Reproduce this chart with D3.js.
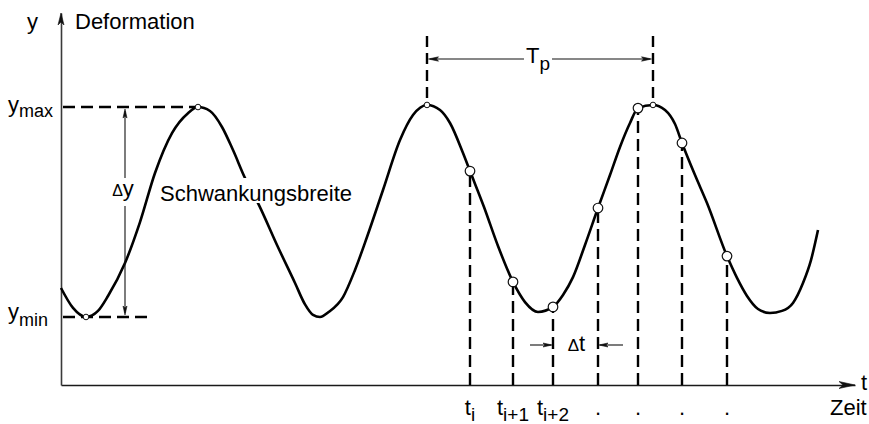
<!DOCTYPE html>
<html>
<head>
<meta charset="utf-8">
<script src="https://cdn.jsdelivr.net/npm/d3@7"></script>
<style>
  body { margin: 0; background: #fff; }
  svg { display: block; font-family: "Liberation Sans", Arial, Helvetica, sans-serif; }
</style>
</head>
<body>
<script>
// Deformation signal over time; y_min = 0, y_max = 10 (deformation units), time in arbitrary units.
const curveTime = [
  0, 0.6, 1.25, 1.85, 2.35, 3.2, 3.95, 4.7, 5.55, 6.35, 6.85, 7.45, 8.05, 8.6, 9.2, 9.9,
  10.8, 11.7, 12.2, 12.6, 12.95, 13.4, 14.1, 14.7, 15.3, 16.1, 16.95, 17.6, 18.3, 18.95, 19.45,
  20.1, 20.45, 21.15, 21.85, 22.6, 23.2, 23.85, 24.6, 25.1, 25.6, 26.2, 26.85, 27.45, 27.95,
  28.45, 28.85, 29.6, 30.2, 30.7, 31.05, 31.7, 32.3, 33.3, 33.8, 34.3, 34.85, 35.45, 36.05,
  36.6, 37.1, 37.5, 37.85
];
const curveDeformation = [
  1.38, 0.43, 0, 0.29, 1.0, 2.57, 4.52, 6.86, 8.76, 9.71, 10, 9.81, 9.05, 7.95, 6.62, 5.33,
  3.43, 1.62, 0.6, 0.1, 0.0, 0.25, 0.95, 2.24, 3.81, 6.05, 8.43, 9.62, 10.1, 9.86, 9.24,
  7.81, 6.95, 5.24, 3.38, 1.67, 0.71, 0.24, 0.48, 1.05, 1.9, 3.43, 5.19, 6.76, 8.1,
  9.24, 9.95, 10.1, 9.86, 9.19, 8.29, 6.76, 5.43, 2.9, 1.86, 1.0, 0.38, 0.19, 0.29,
  0.67, 1.62, 2.71, 4.14
];

// Sampling instants t_i, t_i+1, ... and the deformation read at each
const sampleTime = [20.45, 22.6, 24.6, 26.85, 28.85, 31.05, 33.3];
const sampleDeformation = [6.95, 1.67, 0.48, 5.19, 9.95, 8.29, 2.9];
const sampleLabelBase = ["t", "t", "t", ".", ".", ".", "."];
const sampleLabelSub = ["i", "i+1", "i+2", "", "", "", ""];

// Extreme values (small open markers)
const extremaTime = [1.25, 6.85, 18.3, 29.6];
const extremaDeformation = [0, 10, 10.1, 10.1];

const yMinValue = 0;
const yMaxValue = 10;
const periodStart = 18.3;   // peak where T_p starts
const periodEnd = 29.6;     // next peak, end of T_p

const W = 869, H = 424;
const FONT = 22, SUB = 18;

const x = d3.scaleLinear().domain([0, 39.7]).range([61, 855]);
const y = d3.scaleLinear().domain([-3.24, 14.48]).range([385, 13]);

const svg = d3.select("body").append("svg").attr("width", W).attr("height", H);

// notched arrow head pointing in direction `ang` (radians), tip at (tx, ty)
function arrowHead(g, tx, ty, ang, len, half, notch) {
  const c = Math.cos(ang), s = Math.sin(ang);
  const p = (a, b) => [tx - a * c + b * s, ty - a * s - b * c];
  const pts = [[tx, ty], p(len, half), p(len - notch, 0), p(len, -half)];
  g.append("path")
    .attr("d", "M" + pts.map(d => d.join(",")).join("L") + "Z")
    .attr("fill", "#111").attr("stroke", "#111").attr("stroke-width", 0.6)
    .attr("stroke-linejoin", "miter");
}

// ---------- axes ----------
const xAxis = svg.append("g").attr("transform", `translate(0,${y.range()[0]})`)
  .call(d3.axisBottom(x).tickValues([]).tickSizeOuter(0));
xAxis.select(".domain").attr("stroke", "#1a1a1a").attr("stroke-width", 1.6);
arrowHead(svg, x.range()[1], y.range()[0], 0, 16, 3.5, 4);

const yAxis = svg.append("g").attr("transform", `translate(${x.range()[0]},0)`)
  .call(d3.axisLeft(y).tickValues([]).tickSizeOuter(0));
yAxis.select(".domain").attr("stroke", "#3a3a3a").attr("stroke-width", 1.6);
arrowHead(svg, x.range()[0], y.range()[1], -Math.PI / 2, 12, 3, 3);

// ---------- dashed guide lines ----------
const dash = "12,6";
const guides = svg.append("g").attr("stroke", "#000").attr("stroke-width", 2.4)
  .attr("stroke-dasharray", dash).attr("fill", "none");

// y_max and y_min reference lines, starting at the y axis
guides.append("line")
  .attr("x1", x(0) + 2).attr("x2", x(6.85)).attr("y1", y(yMaxValue)).attr("y2", y(yMaxValue));
guides.append("line")
  .attr("x1", x(0) + 2).attr("x2", x(4.3)).attr("y1", y(yMinValue)).attr("y2", y(yMinValue));

// sampling instants: dashes run up from the time axis to the curve
guides.selectAll("line.sample").data(sampleTime).join("line").attr("class", "sample")
  .attr("x1", d => x(d)).attr("x2", d => x(d))
  .attr("y1", y.range()[0]).attr("y2", (d, i) => y(sampleDeformation[i]));

// period markers above the two peaks
[[periodStart, 10.1], [periodEnd, 10.1]].forEach(([t, v]) => {
  guides.append("line").attr("stroke-dasharray", "11,6")
    .attr("x1", x(t)).attr("x2", x(t)).attr("y1", 36).attr("y2", y(v));
});

// ---------- the signal ----------
const line = d3.line()
  .x((d, i) => x(curveTime[i]))
  .y(d => y(d))
  .curve(d3.curveMonotoneX);

svg.append("path")
  .attr("d", line(curveDeformation))
  .attr("fill", "none").attr("stroke", "#000").attr("stroke-width", 2.6)
  .attr("stroke-linejoin", "round");

// ---------- "Schwankungsbreite" label, knocking out the curve behind it ----------
const swG = svg.append("g");
const swRect = swG.append("rect").attr("fill", "#fff");
const sw = swG.append("text").attr("x", 160).attr("y", 201)
  .attr("font-size", FONT).attr("fill", "#000").text("Schwankungsbreite");
const swBox = sw.node().getBBox();
swRect.attr("x", swBox.x - 1).attr("y", 178).attr("width", swBox.width + 2).attr("height", 25);

// ---------- Δy arrow ----------
const dyX = x(3.2);
const ann = svg.append("g").attr("stroke", "#111").attr("stroke-width", 1.1);
ann.append("line").attr("x1", dyX).attr("x2", dyX).attr("y1", y(yMaxValue) + 4).attr("y2", 178);
ann.append("line").attr("x1", dyX).attr("x2", dyX).attr("y1", 206).attr("y2", y(yMinValue) - 4);
arrowHead(svg, dyX, y(yMaxValue) + 2, -Math.PI / 2, 9, 2, 2);
arrowHead(svg, dyX, y(yMinValue) - 2, Math.PI / 2, 9, 2, 2);

const dyText = svg.append("text").attr("x", dyX - 2).attr("y", 196)
  .attr("text-anchor", "middle").attr("font-size", FONT);
dyText.append("tspan").attr("font-size", 16).text("\u0394");
dyText.append("tspan").text("y");

// ---------- T_p arrow ----------
const tpY = 59;
const tpText = svg.append("text").attr("x", (x(periodStart) + x(periodEnd)) / 2 - 2).attr("y", 63)
  .attr("text-anchor", "middle").attr("font-size", FONT);
tpText.append("tspan").text("T");
tpText.append("tspan").attr("font-size", 19).attr("dy", 7).text("p");
const tpBox = tpText.node().getBBox();
ann.append("line").attr("x1", x(periodStart) + 3).attr("x2", tpBox.x - 2).attr("y1", tpY).attr("y2", tpY);
ann.append("line").attr("x1", tpBox.x + tpBox.width + 2).attr("x2", x(periodEnd) - 3).attr("y1", tpY).attr("y2", tpY);
arrowHead(svg, x(periodStart) + 1.5, tpY, Math.PI, 10, 2.2, 2);
arrowHead(svg, x(periodEnd) - 1.5, tpY, 0, 10, 2.2, 2);

// ---------- Δt arrows between t_i+2 and t_i+3 ----------
const dtY = 345;
const dtL = x(sampleTime[2]), dtR = x(sampleTime[3]);
ann.append("line").attr("x1", dtL - 23).attr("x2", dtL - 2).attr("y1", dtY).attr("y2", dtY);
ann.append("line").attr("x1", dtR + 25).attr("x2", dtR + 2).attr("y1", dtY).attr("y2", dtY);
arrowHead(svg, dtL - 1, dtY, 0, 9, 2, 2);
arrowHead(svg, dtR + 1, dtY, Math.PI, 9, 2, 2);
const dtText = svg.append("text").attr("x", (dtL + dtR) / 2 + 1).attr("y", 351)
  .attr("text-anchor", "middle").attr("font-size", FONT);
dtText.append("tspan").attr("font-size", 17).text("\u0394");
dtText.append("tspan").text("t");

// ---------- markers ----------
svg.append("g").selectAll("circle").data(extremaTime).join("circle")
  .attr("cx", d => x(d)).attr("cy", (d, i) => y(extremaDeformation[i])).attr("r", 2.8)
  .attr("fill", "#fff").attr("stroke", "#111").attr("stroke-width", 1);

svg.append("g").selectAll("circle").data(sampleTime).join("circle")
  .attr("cx", d => x(d)).attr("cy", (d, i) => y(sampleDeformation[i])).attr("r", 4.8)
  .attr("fill", "#fff").attr("stroke", "#111").attr("stroke-width", 1.2);

// ---------- text labels ----------
const txt = svg.append("g").attr("font-size", FONT).attr("fill", "#000");
txt.append("text").attr("x", 27).attr("y", 29).text("y");
txt.append("text").attr("x", 75).attr("y", 29).text("Deformation");

const ymaxT = txt.append("text").attr("x", 8).attr("y", y(yMaxValue) + 5);
ymaxT.append("tspan").text("y");
ymaxT.append("tspan").attr("font-size", SUB).attr("dy", 5).text("max");
const yminT = txt.append("text").attr("x", 8).attr("y", y(yMinValue) + 2);
yminT.append("tspan").text("y");
yminT.append("tspan").attr("font-size", SUB).attr("dy", 7).text("min");

// sample instant labels under the time axis
sampleTime.forEach((t, i) => {
  const lab = txt.append("text").attr("x", x(t)).attr("y", 415).attr("text-anchor", "middle");
  lab.append("tspan").text(sampleLabelBase[i]);
  if (sampleLabelSub[i]) lab.append("tspan").attr("font-size", 19).attr("dy", 6).text(sampleLabelSub[i]);
});

txt.append("text").attr("x", 861).attr("y", 390).text("t");
txt.append("text").attr("x", 830).attr("y", 415).text("Zeit");
</script>
</body>
</html>
